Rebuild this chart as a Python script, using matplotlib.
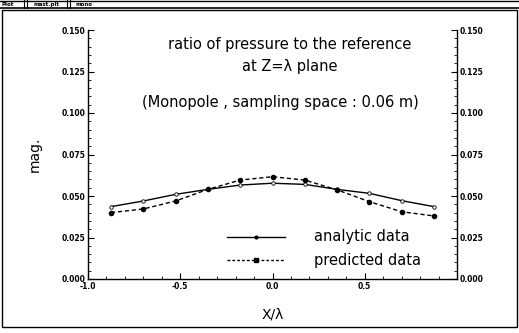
import matplotlib
matplotlib.use("Agg")
import matplotlib.pyplot as plt
from matplotlib.lines import Line2D
from matplotlib.patches import Rectangle
from matplotlib.ticker import MultipleLocator

x_vals = [-0.875, -0.7, -0.525, -0.35, -0.175, 0.0, 0.175, 0.35, 0.525, 0.7, 0.875]
analytic = [0.0436, 0.0470, 0.0510, 0.0540, 0.0566, 0.0577, 0.0570, 0.0540, 0.0516, 0.0472, 0.0436]
predicted = [0.0400, 0.0422, 0.0470, 0.0540, 0.0596, 0.0616, 0.0596, 0.0537, 0.0466, 0.0405, 0.0380]
yticks = [0.000, 0.025, 0.050, 0.075, 0.100, 0.125, 0.150]
xticks = [-1.0, -0.5, 0.0, 0.5]

W, H = 519, 333
fig = plt.figure(figsize=(W/100, H/100), dpi=100)
fig.patch.set_facecolor("white")

def fx(px): return px / W
def fy(py): return 1 - py / H

# window frame
fig.add_artist(Rectangle((fx(2), fy(327)), fx(515), (325 - 8) / H, transform=fig.transFigure,
                         fill=False, lw=1.0, ec="black"))
fig.add_artist(Line2D([0, 1], [fy(8), fy(8)], transform=fig.transFigure, color="black", lw=1.2))
fig.add_artist(Line2D([0, 1], [fy(0.5), fy(0.5)], transform=fig.transFigure, color="black", lw=1.0))
hdr = "black"
fig.text(fx(2), fy(4.5), "Plot", fontsize=4, fontweight="bold", va="center", ha="left", color=hdr)
fig.text(fx(34), fy(4.5), "mast.plt", fontsize=4, fontweight="bold", va="center", ha="left", color=hdr)
fig.text(fx(75), fy(4.5), "mono", fontsize=4, fontweight="bold", va="center", ha="left", color=hdr)
for px in [24, 27, 67, 70]:
    fig.add_artist(Line2D([fx(px), fx(px)], [fy(0), fy(8)], transform=fig.transFigure, color="black", lw=0.8))

ax = fig.add_axes([fx(88), fy(279), fx(457) - fx(88), fy(30) - fy(279)])
ax.set_xlim(-1.0, 1.0)
ax.set_ylim(0.0, 0.150)

ax.plot(x_vals, analytic, "-", color="black", lw=1.0, marker="o", ms=2.5, mfc="white", mec="black", mew=0.6)
ax.plot(x_vals, predicted, "--", color="black", lw=1.0, dashes=(3, 2), marker="o", ms=3, mfc="black", mec="black")

ax.set_xticks(xticks)
ax.set_xticklabels(["-1.0", "-0.5", "0.0", "0.5"])
ax.xaxis.set_minor_locator(MultipleLocator(0.1))
ax.set_yticks(yticks)
ax.set_yticklabels(["0.000", "0.025", "0.050", "0.075", "0.100", "0.125", "0.150"])
ax.yaxis.set_minor_locator(MultipleLocator(0.005))
ax.tick_params(axis="both", which="major", direction="in", length=4, width=0.8, labelsize=5.5, pad=2)
ax.tick_params(axis="both", which="minor", direction="in", length=2, width=0.6)
ax.tick_params(axis="y", which="both", right=True, labelright=True)
ax.tick_params(axis="x", which="both", top=False)
for lab in ax.get_xticklabels() + ax.get_yticklabels():
    lab.set_fontweight("bold")
for s in ax.spines.values():
    s.set_linewidth(1.0)
ax.spines["top"].set_visible(False)

ax.set_xlabel("X/λ", fontsize=10, labelpad=12)
ax.set_ylabel("mag.", fontsize=10, labelpad=14)

fig.text(fx(290), fy(45), "ratio of pressure to the reference", fontsize=10.5, ha="center", va="center")
fig.text(fx(290), fy(67), "at Z=λ plane", fontsize=10.5, ha="center", va="center")
fig.text(fx(280), fy(103), "(Monopole , sampling space : 0.06 m)", fontsize=10.5, ha="center", va="center")

# legend (manual)
lx = [fx(227), fx(256), fx(285)]
fig.add_artist(Line2D(lx, [fy(237)] * 3, transform=fig.transFigure, color="black", lw=1.0,
                      marker="o", markevery=[1], ms=2, mfc="black"))
fig.add_artist(Line2D(lx, [fy(260)] * 3, transform=fig.transFigure, color="black", lw=1.0, ls="--",
                      dashes=(2, 1.5), marker="s", markevery=[1], ms=3, mfc="black"))
fig.text(fx(314), fy(237), "analytic data", fontsize=10.5, ha="left", va="center")
fig.text(fx(314), fy(260), "predicted data", fontsize=10.5, ha="left", va="center")

fig.savefig("out.png", dpi=100)
